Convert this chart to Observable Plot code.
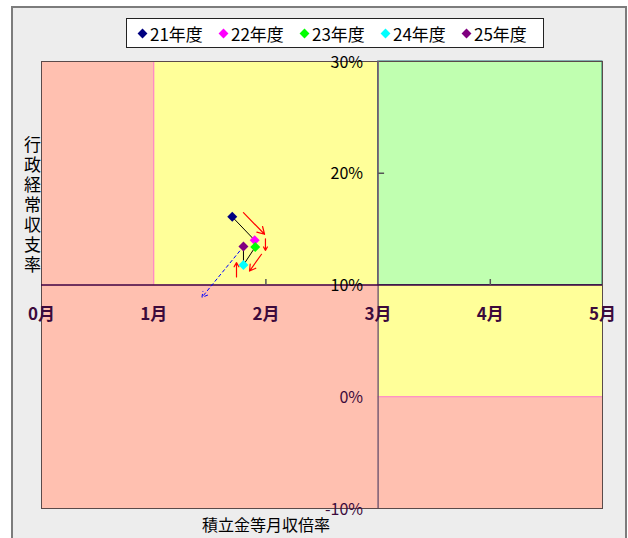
<!DOCTYPE html>
<html><head><meta charset="utf-8">
<script src="https://cdn.jsdelivr.net/npm/d3@7"></script>
<script src="https://cdn.jsdelivr.net/npm/@observablehq/plot@0.6"></script>
<style>
html,body{margin:0;padding:0;background:#fff;}
#wrap{position:relative;width:628px;height:538px;overflow:hidden;font-family:"Noto Sans CJK JP","Noto Sans",sans-serif;}
#frame{position:absolute;left:11px;top:6px;width:612px;height:560px;border:2px solid #7c7c7c;background:#ededed;}
#chart{position:absolute;left:0;top:0;}
#legend{position:absolute;left:126px;top:18px;width:418px;height:30px;border:1px solid #222;background:#fff;box-sizing:border-box;display:flex;align-items:center;padding-left:11px;}
.item{display:flex;align-items:center;width:82px;font-size:17px;color:#000;white-space:nowrap;}
.dia{display:inline-block;width:7px;height:7px;transform:rotate(45deg);margin:0 4px 0 1px;}
#ytitle{position:absolute;left:20px;top:136px;writing-mode:vertical-rl;text-orientation:upright;font-size:17px;letter-spacing:3px;color:#000;}
#xtitle{position:absolute;left:202px;top:512px;font-size:16px;color:#000;}
</style></head>
<body>
<div id="wrap">
  <div id="frame"></div>
  <div id="chart"></div>
  <div id="legend"></div>
  <div id="ytitle">行政経常収支率</div>
  <div id="xtitle">積立金等月収倍率</div>
</div>
<script>
// ---- data ----
const years = ["21年度", "22年度", "23年度", "24年度", "25年度"];
const monthRatio = [1.70, 1.90, 1.905, 1.80, 1.80];   // 積立金等月収倍率 (月)
const balanceRate = [16.1, 14.0, 13.4, 11.8, 13.45];   // 行政経常収支率 (%)
const yearColors = ["#000080", "#ff00ff", "#00ff00", "#00ffff", "#800080"];

// background zones (x in months, y in %)
const zoneX1 = [0, 1, 3, 0, 3, 3];
const zoneX2 = [1, 3, 5, 3, 5, 5];
const zoneY1 = [10, 10, 10, -10, 0, -10];
const zoneY2 = [30, 30, 30, 10, 10, 0];
const zoneKind = ["red", "yellow", "green", "red", "yellow", "red"];
const zoneColors = {red: "#ffc0b0", yellow: "#ffff99", green: "#c0ffb0"};

// projection arrow (from last year toward)
const projTo = [1.43, 8.9];

// red trend arrows
const trendX1 = [1.80, 1.996, 1.961, 1.738];
const trendY1 = [16.47, 14.14, 12.75, 10.72];
const trendX2 = [1.988, 1.996, 1.854, 1.738];
const trendY2 = [14.54, 13.10, 11.25, 12.00];

// ticks
const xTickValues = [0, 1, 2, 3, 4, 5];
const xTickLabels = ["0月", "1月", "2月", "3月", "4月", "5月"];
const yTickValues = [30, 20, 10, 0, -10];
const yTickLabels = ["30%", "20%", "10%", "0%", "-10%"];
const xMinorTicks = [2, 4];
const yMinorTicks = [20];

// ---- build ----
const zones = zoneX1.map((x1, i) => ({x1, x2: zoneX2[i], y1: zoneY1[i], y2: zoneY2[i], kind: zoneKind[i]}));
const pts = years.map((yr, i) => ({year: yr, x: monthRatio[i], y: balanceRate[i], color: yearColors[i]}));
const trends = trendX1.map((x1, i) => ({x1, y1: trendY1[i], x2: trendX2[i], y2: trendY2[i]}));
const last = pts[pts.length - 1];
const proj = [{x1: last.x, y1: last.y, x2: projTo[0], y2: projTo[1]}];

const tickUp = {draw(ctx) { ctx.moveTo(0, 0); ctx.lineTo(0, -6); }};
const tickRight = {draw(ctx) { ctx.moveTo(0, 0); ctx.lineTo(6, 0); }};

const FONT = '"Noto Sans CJK JP","Noto Sans",sans-serif';

const chart = Plot.plot({
  width: 628, height: 538,
  marginLeft: 41, marginRight: 26, marginTop: 61, marginBottom: 30,
  x: {domain: [0, 5], axis: null},
  y: {domain: [-10, 30], axis: null},
  style: {background: "transparent", fontFamily: FONT, overflow: "visible"},
  marks: [
    Plot.rect(zones, {x1: "x1", x2: "x2", y1: "y1", y2: "y2", fill: d => zoneColors[d.kind]}),
    Plot.rect(zones.filter(d => d.kind === "green"), {x1: "x1", x2: "x2", y1: "y1", y2: "y2", fill: "none", stroke: "#207070", strokeWidth: 1}),
    Plot.ruleX([1], {y1: 10, y2: 30, stroke: "#ff80c8", strokeWidth: 1.2}),
    Plot.ruleY([0], {x1: 3, x2: 5, stroke: "#ff80c8", strokeWidth: 1.2}),
    Plot.frame({stroke: "#5a4a4a", strokeWidth: 1}),
    Plot.ruleX([3], {y1: -10, y2: 30, stroke: "#7a5a72", strokeWidth: 1.5}),
    Plot.ruleY([10], {x1: 0, x2: 5, stroke: "#400040", strokeWidth: 1.5}),
    Plot.dot(xMinorTicks, {x: d => d, y: 10, symbol: tickUp, stroke: "#555", fill: "none", r: 3}),
    Plot.dot(yMinorTicks, {x: 3, y: d => d, symbol: tickRight, stroke: "#555", fill: "none", r: 3}),
    Plot.text(xTickValues, {x: d => d, y: 10, text: (d, i) => xTickLabels[i], dy: 30, fontSize: 17, fontWeight: "bold", fill: "#3c0a3c"}),
    Plot.text(yTickValues, {x: 3, y: d => d, text: (d, i) => yTickLabels[i], dx: -15, dy: 1, textAnchor: "end", fontSize: 16, fill: d => d >= 10 ? "#000" : "#3c0a3c"}),
    Plot.line(pts, {x: "x", y: "y", stroke: "#000", strokeWidth: 1}),
    Plot.arrow(proj, {x1: "x1", y1: "y1", x2: "x2", y2: "y2", stroke: "#0000ff", strokeDasharray: "3,3", strokeWidth: 1, headLength: 9, insetStart: 6}),
    Plot.arrow(trends, {x1: "x1", y1: "y1", x2: "x2", y2: "y2", stroke: "#ff0000", strokeWidth: 1.2, headLength: 10}),
    Plot.dot(pts, {x: "x", y: "y", symbol: "diamond2", r: 4.5, fill: d => d.color, stroke: "none"})
  ]
});
document.getElementById("chart").appendChild(chart);

const legend = document.getElementById("legend");
years.forEach((yr, i) => {
  const it = document.createElement("div");
  it.className = "item";
  const d = document.createElement("span");
  d.className = "dia";
  d.style.background = yearColors[i];
  it.appendChild(d);
  it.appendChild(document.createTextNode(yr));
  legend.appendChild(it);
});
</script>
</body></html>
